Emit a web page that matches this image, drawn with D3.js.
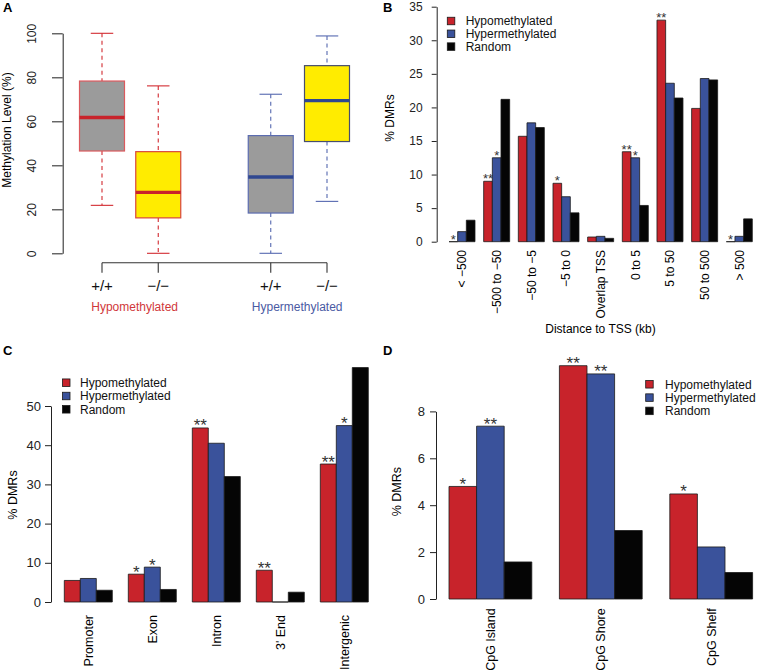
<!DOCTYPE html>
<html>
<head>
<meta charset="utf-8">
<script src="https://cdn.jsdelivr.net/npm/d3@7"></script>
<style>
  html, body { margin: 0; padding: 0; background: #fff; }
  svg { display: block; font-family: "Liberation Sans", Arial, Helvetica, sans-serif; }
</style>
</head>
<body>
<svg id="fig" width="757" height="670"></svg>
<script>
// ---- data ----
const seriesNames = ["Hypomethylated", "Hypermethylated", "Random"];

// A: methylation level boxplots
const boxLabels    = ["+/+", "\u2212/\u2212", "+/+", "\u2212/\u2212"];
const boxPositions = [1, 2, 4, 5];
const boxLow       = [21.8, 0, 0, 23.6];
const boxQ1        = [46.5, 16.1, 18.3, 50.8];
const boxMedian    = [61.7, 27.7, 34.7, 69.4];
const boxQ3        = [78.3, 46.2, 53.5, 85.3];
const boxHigh      = [100, 76.1, 72.3, 98.8];
const boxGroups    = ["Hypomethylated", "Hypermethylated"];
const boxGroupPos  = [1.58, 4.47];
const boxTicks     = [0, 20, 40, 60, 80, 100];

// B: distance to TSS
const tssCats   = ["< \u2212500", "\u2212500 to \u221250", "\u221250 to \u22125", "\u22125 to 0",
                   "Overlap TSS", "0 to 5", "5 to 50", "50 to 500", "> 500"];
const tssHypo   = [0, 9.0, 15.7, 8.7, 0.7, 13.4, 33.0, 19.85, 0];
const tssHyper  = [1.5, 12.5, 17.7, 6.7, 0.8, 12.5, 23.6, 24.3, 0.8];
const tssRandom = [3.2, 21.2, 17.0, 4.3, 0.5, 5.4, 21.4, 24.1, 3.4];
const tssStarsHypo  = ["*", "**", "", "*", "", "**", "**", "", "*"];
const tssStarsHyper = ["", "*", "", "", "", "*", "", "", ""];
const tssTicks  = [0, 5, 10, 15, 20, 25, 30, 35];

// C: genomic region
const regionCats   = ["Promoter", "Exon", "Intron", "3' End", "Intergenic"];
const regionHypo   = [5.5, 7.1, 44.4, 8.1, 35.2];
const regionHyper  = [6.0, 8.9, 40.5, 0, 45.0];
const regionRandom = [3.0, 3.2, 32.0, 2.5, 59.8];
const regionStarsHypo  = ["", "*", "**", "**", "**"];
const regionStarsHyper = ["", "*", "", "", "*"];
const regionTicks  = [0, 10, 20, 30, 40, 50];

// D: CpG context
const cpgCats   = ["CpG Island", "CpG Shore", "CpG Shelf"];
const cpgHypo   = [4.8, 9.95, 4.48];
const cpgHyper  = [7.37, 9.6, 2.22];
const cpgRandom = [1.58, 2.92, 1.13];
const cpgStarsHypo  = ["*", "**", "*"];
const cpgStarsHyper = ["**", "**", ""];
const cpgTicks  = [0, 2, 4, 6, 8];

// ---- style ----
const barColors = ["#C8232B", "#3A529B", "#050505"];
const FS = 12;

const svg = d3.select("#fig");

function panelLetter(x, y, t) {
  svg.append("text").attr("x", x).attr("y", y)
    .attr("font-size", 13).attr("font-weight", "bold").text(t);
}

function rotText(g, x, y, t, anchor, size) {
  return g.append("text")
    .attr("transform", `translate(${x},${y}) rotate(-90)`)
    .attr("dy", "0.35em")
    .attr("text-anchor", anchor)
    .attr("font-size", size || FS)
    .text(t);
}

// generic grouped barplot (R style: 3 bars per group, 1 bar gap)
function barPanel(cfg) {
  const g = svg.append("g");
  const { cats, series, stars, x, y } = cfg;

  cats.forEach((c, i) => {
    series.forEach((vals, s) => {
      const u = 1 + i * 4 + s;
      const x0 = x(u), x1 = x(u + 1), y0 = y(0), y1 = y(vals[i]);
      g.append("path")
        .attr("d", `M${x0},${y0}V${y1}H${x1}V${y0}Z`)
        .attr("fill", barColors[s])
        .attr("stroke", "#1a1a1a")
        .attr("stroke-width", 0.8);
      const st = stars[s] ? stars[s][i] : "";
      if (st) {
        g.append("text")
          .attr("x", (x0 + x1) / 2)
          .attr("y", y1 + cfg.starShift)
          .attr("text-anchor", "middle")
          .attr("font-size", cfg.starSize)
          .attr("fill", "#333")
          .text(st);
      }
    });
    rotText(g, x(1 + i * 4 + 1.5), cfg.labelTop, c, "end", cfg.labelFont);
  });

  // y axis, drawn only over the tick range
  const axScale = y.copy().domain(d3.extent(cfg.ticks)).range([y(d3.min(cfg.ticks)), y(d3.max(cfg.ticks))]);
  const ax = g.append("g")
    .attr("transform", `translate(${cfg.axisX},0)`)
    .call(d3.axisLeft(axScale).tickValues(cfg.ticks).tickSize(cfg.tickLen)
      .tickSizeOuter(0).tickPadding(cfg.tickPad).tickFormat(d3.format("d")));
  ax.attr("font-family", null).attr("font-size", cfg.tickFont);
  ax.selectAll("path, line").attr("stroke", "#222");
  ax.selectAll("text").attr("fill", "#222");

  rotText(g, cfg.titleX, cfg.titleY, "% DMRs", "middle", cfg.labelFont);

  // legend
  seriesNames.forEach((n, k) => {
    const cy = cfg.legendY + k * cfg.legendStep;
    g.append("rect")
      .attr("x", cfg.legendX).attr("y", cy - 3.75)
      .attr("width", 7.5).attr("height", 7.5)
      .attr("fill", barColors[k]).attr("stroke", "#1a1a1a").attr("stroke-width", 0.8);
    g.append("text")
      .attr("x", cfg.legendTextX).attr("y", cy).attr("dy", "0.35em")
      .attr("font-size", FS).attr("fill", "#111").text(n);
  });
  return g;
}

// ---- Panel A ----
panelLetter(3, 12, "A");
(function () {
  const g = svg.append("g");
  const x = d3.scaleLinear([1, 5], [102, 327]);
  const y = d3.scaleLinear([0, 100], [253.3, 33.3]);
  const halfW = x(1.4) - x(1);
  const capW = x(1.2) - x(1);
  const fills   = ["#9B9B9B", "#FFEC00", "#9B9B9B", "#FFEC00"];
  const borders = ["#DB5A5E", "#D9463C", "#5B6CB0", "#474E6E"];
  const medians = ["#C8232B", "#C8232B", "#2F4790", "#2F4790"];
  const whisk   = ["#D22A30", "#D22A30", "#5568B0", "#5568B0"];

  boxPositions.forEach((p, i) => {
    const cx = x(p);
    [[boxHigh[i], boxQ3[i]], [boxQ1[i], boxLow[i]]].forEach(([a, b]) => {
      g.append("line").attr("x1", cx).attr("x2", cx).attr("y1", y(a)).attr("y2", y(b))
        .attr("stroke", whisk[i]).attr("stroke-width", 1.1).attr("stroke-dasharray", "4,3.5");
    });
    [boxHigh[i], boxLow[i]].forEach(v => {
      g.append("line").attr("x1", cx - capW).attr("x2", cx + capW).attr("y1", y(v)).attr("y2", y(v))
        .attr("stroke", whisk[i]).attr("stroke-width", 1.1);
    });
    g.append("rect")
      .attr("x", cx - halfW).attr("width", 2 * halfW)
      .attr("y", y(boxQ3[i])).attr("height", y(boxQ1[i]) - y(boxQ3[i]))
      .attr("fill", fills[i]).attr("stroke", borders[i]).attr("stroke-width", 1.2);
    g.append("line").attr("x1", cx - halfW).attr("x2", cx + halfW)
      .attr("y1", y(boxMedian[i])).attr("y2", y(boxMedian[i]))
      .attr("stroke", medians[i]).attr("stroke-width", 3.4);
  });

  // y axis
  const ax = g.append("g").attr("transform", "translate(62.7,0)")
    .call(d3.axisLeft(y).tickValues(boxTicks).tickSize(10.7).tickSizeOuter(0));
  ax.attr("font-family", null).attr("font-size", FS);
  ax.selectAll("path, line").attr("stroke", "#333").attr("stroke-width", 1.1);
  ax.selectAll("text")
    .attr("x", null).attr("dy", "0.35em")
    .attr("transform", "translate(-30.7,0) rotate(-90)")
    .attr("text-anchor", "middle").attr("fill", "#222");
  rotText(g, 7, 130, "Methylation Level (%)", "middle");

  // x axis (R style: line spans first to last tick)
  const axisY = 262.7;
  g.append("line").attr("x1", x(1)).attr("x2", x(5)).attr("y1", axisY).attr("y2", axisY)
    .attr("stroke", "#333").attr("stroke-width", 1.1);
  boxPositions.forEach((p, i) => {
    g.append("line").attr("x1", x(p)).attr("x2", x(p)).attr("y1", axisY).attr("y2", axisY + 10)
      .attr("stroke", "#333").attr("stroke-width", 1.1);
    g.append("text").attr("x", x(p)).attr("y", 291).attr("text-anchor", "middle")
      .attr("font-size", 15).attr("fill", "#111").text(boxLabels[i]);
  });
  const groupColors = ["#D0373A", "#4A5AA3"];
  boxGroups.forEach((n, k) => {
    g.append("text").attr("x", x(boxGroupPos[k])).attr("y", 311).attr("text-anchor", "middle")
      .attr("font-size", FS).attr("fill", groupColors[k]).text(n);
  });
})();

// ---- Panel B ----
panelLetter(383, 12, "B");
barPanel({
  cats: tssCats,
  series: [tssHypo, tssHyper, tssRandom],
  stars: [tssStarsHypo, tssStarsHyper],
  x: d3.scaleLinear([1, 36], [449, 752.3]),
  y: d3.scaleLinear([0, 35], [241.7, 6.7]),
  ticks: tssTicks,
  axisX: 436.7, tickLen: 5, tickPad: 9, tickFont: FS,
  labelTop: 250, labelFont: FS, starSize: 13, starShift: 2,
  titleX: 390, titleY: 118,
  legendX: 447.3, legendY: 21, legendStep: 12.8, legendTextX: 465.7
});
svg.append("text").attr("x", 600.5).attr("y", 333).attr("text-anchor", "middle")
  .attr("font-size", FS).text("Distance to TSS (kb)");

// ---- Panel C ----
panelLetter(3, 355, "C");
barPanel({
  cats: regionCats,
  series: [regionHypo, regionHyper, regionRandom],
  stars: [regionStarsHypo, regionStarsHyper],
  x: d3.scaleLinear([1, 20], [64.3, 368.3]),
  y: d3.scaleLinear([0, 50], [602, 406]),
  ticks: regionTicks,
  axisX: 51, tickLen: 6, tickPad: 4, tickFont: 13,
  labelTop: 615, labelFont: 12.5, starSize: 17, starShift: 3.5,
  titleX: 12.7, titleY: 495,
  legendX: 62.5, legendY: 382.7, legendStep: 13.3, legendTextX: 80
});

// ---- Panel D ----
panelLetter(383, 355, "D");
barPanel({
  cats: cpgCats,
  series: [cpgHypo, cpgHyper, cpgRandom],
  stars: [cpgStarsHypo, cpgStarsHyper],
  x: d3.scaleLinear([1, 12], [449, 752.6]),
  y: d3.scaleLinear([0, 8], [599, 411.4]),
  ticks: cpgTicks,
  axisX: 436, tickLen: 6, tickPad: 5, tickFont: 13,
  labelTop: 608.3, labelFont: 12.5, starSize: 17, starShift: 3.5,
  titleX: 396.7, titleY: 491.7,
  legendX: 645.7, legendY: 384.3, legendStep: 13.3, legendTextX: 665
});
</script>
</body>
</html>
